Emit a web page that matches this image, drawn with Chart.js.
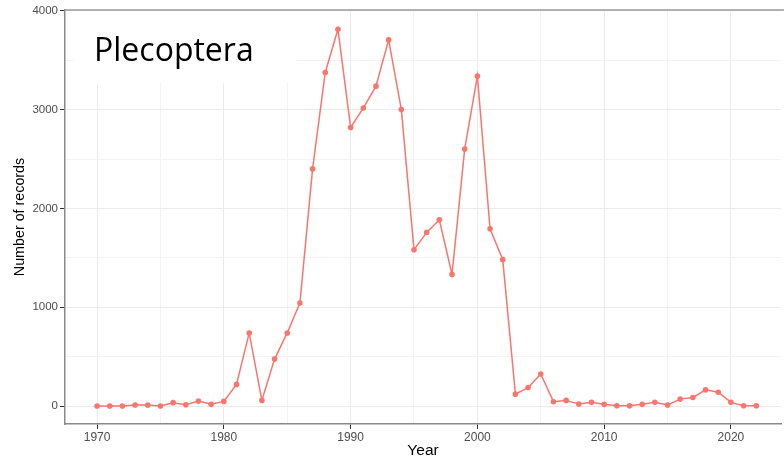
<!DOCTYPE html>
<html>
<head>
<meta charset="utf-8">
<script src="https://cdn.jsdelivr.net/npm/chart.js@4/dist/chart.umd.min.js"></script>
<style>
  html, body { margin: 0; padding: 0; background: #fff; }
  #wrap { width: 784px; height: 460px; }
</style>
</head>
<body>
<div id="wrap"><canvas id="chart" width="784" height="460"></canvas></div>
<script>
// Records per year
const years = [
  1970, 1971, 1972, 1973, 1974, 1975, 1976, 1977, 1978, 1979,
  1980, 1981, 1982, 1983, 1984, 1985, 1986, 1987, 1988, 1989,
  1990, 1991, 1992, 1993, 1994, 1995, 1996, 1997, 1998, 1999,
  2000, 2001, 2002, 2003, 2004, 2005, 2006, 2007, 2008, 2009,
  2010, 2011, 2012, 2013, 2014, 2015, 2016, 2017, 2018, 2019,
  2020, 2021, 2022
];
const records = [
  0, 0, 0, 10, 10, 0, 34, 13, 50, 17,
  47, 219, 740, 57, 475, 740, 1043, 2401, 3377, 3815,
  2821, 3017, 3239, 3707, 3003, 1583, 1758, 1886, 1333, 2603,
  3340, 1795, 1482, 120, 187, 324, 44, 57, 20, 37,
  17, 3, 3, 17, 37, 10, 70, 87, 164, 140,
  37, 3, 3
];
const yearTicks = [1970, 1975, 1980, 1985, 1990, 1995, 2000, 2005, 2010, 2015, 2020];
const countTicks = [0, 500, 1000, 1500, 2000, 2500, 3000, 3500, 4000];
const panelTitle = 'Plecoptera';

const lineColor = '#F8766D';
const majorGrid = '#EBEBEB';
const minorGrid = '#F3F3F3';
const axisGray = '#4D4D4D';

// white label box with the order name, plus the thin top border of the panel
const panelDecor = {
  id: 'panelDecor',
  beforeDatasetsDraw(chart) {
    const { ctx, chartArea } = chart;
    ctx.save();
    ctx.fillStyle = '#fff';
    ctx.fillRect(73, chartArea.top + 1, 224, 72);
    ctx.fillStyle = '#000';
    ctx.font = '32px "Open Sans", "Liberation Sans", sans-serif';
    ctx.textBaseline = 'alphabetic';
    ctx.fillText(panelTitle, 94, 61);
    ctx.restore();
  },
  afterDraw(chart) {
    const { ctx, chartArea } = chart;
    ctx.save();
    ctx.strokeStyle = '#9a9a9a';
    ctx.lineWidth = 1.5;
    ctx.beginPath();
    ctx.moveTo(chartArea.left, chartArea.top);
    ctx.lineTo(chart.width, chartArea.top);
    ctx.stroke();
    ctx.restore();
  }
};

const isMajorYear = v => v % 10 === 0;
const isMajorCount = v => v % 1000 === 0;

new Chart(document.getElementById('chart'), {
  type: 'line',
  data: {
    datasets: [{
      data: years.map((y, i) => ({ x: y, y: records[i] })),
      borderColor: lineColor,
      backgroundColor: lineColor,
      borderWidth: 1.5,
      pointRadius: 2.8,
      pointHoverRadius: 3,
      pointBorderWidth: 0,
      tension: 0
    }]
  },
  options: {
    responsive: false,
    animation: false,
    layout: { padding: { top: 10, right: 0, left: 0, bottom: 0 } },
    plugins: {
      legend: { display: false },
      tooltip: { enabled: false }
    },
    scales: {
      x: {
        type: 'linear',
        min: 1967.47,
        max: 2023.95,
        afterBuildTicks: axis => { axis.ticks = yearTicks.map(v => ({ value: v })); },
        afterFit: scale => { scale.height = 36; },
        grid: {
          color: ctx => isMajorYear(ctx.tick.value) ? majorGrid : minorGrid,
          tickColor: ctx => isMajorYear(ctx.tick.value) ? '#333' : 'rgba(0,0,0,0)',
          tickLength: 5,
          lineWidth: 1
        },
        border: { display: true, color: '#8a8a8a', width: 1.5 },
        ticks: {
          autoSkip: false,
          maxRotation: 0,
          padding: 1,
          color: axisGray,
          font: { family: '"Liberation Sans", Arial, sans-serif', size: 12 },
          callback: v => isMajorYear(v) ? String(v) : ''
        },
        title: {
          display: true,
          text: 'Year',
          color: '#000',
          padding: { top: 1, bottom: 0 },
          font: { family: '"Liberation Sans", Arial, sans-serif', size: 15.5 }
        }
      },
      y: {
        min: -182,
        max: 4010,
        afterBuildTicks: axis => { axis.ticks = countTicks.map(v => ({ value: v })); },
        afterFit: scale => { scale.width = 65; },
        grid: {
          color: ctx => isMajorCount(ctx.tick.value) ? majorGrid : minorGrid,
          tickColor: ctx => isMajorCount(ctx.tick.value) ? '#333' : 'rgba(0,0,0,0)',
          tickLength: 5,
          lineWidth: 1
        },
        border: { display: true, color: '#8a8a8a', width: 1.5 },
        ticks: {
          autoSkip: false,
          padding: 2,
          color: axisGray,
          font: { family: '"Liberation Sans", Arial, sans-serif', size: 11.5 },
          callback: v => isMajorCount(v) ? String(v) : ''
        },
        title: {
          display: true,
          text: 'Number of records',
          color: '#000',
          padding: { top: 11, bottom: 0 },
          font: { family: '"Liberation Sans", Arial, sans-serif', size: 14.3 }
        }
      }
    }
  },
  plugins: [panelDecor]
});
</script>
</body>
</html>
